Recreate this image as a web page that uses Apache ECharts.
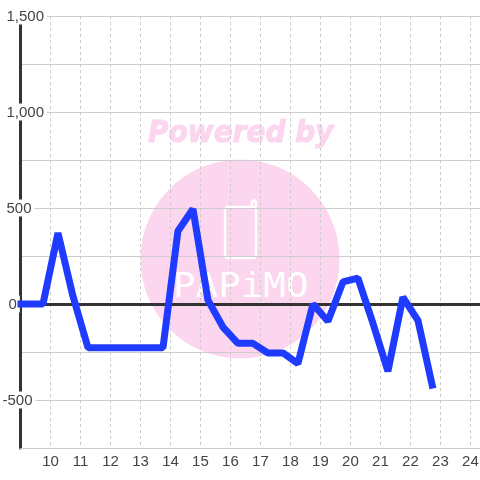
<!DOCTYPE html>
<html><head><meta charset="utf-8">
<style>html,body{margin:0;padding:0;background:#fff}#c{width:480px;height:480px}</style>
<script src="https://cdn.jsdelivr.net/npm/echarts@6/dist/echarts.min.js"></script>
</head><body><div id="c"></div>
<script>
const times = [8.9,9.75,10.25,10.75,11.25,11.75,12.25,12.75,13.25,13.75,14.25,14.75,15.25,15.75,16.25,16.75,17.25,17.75,18.25,18.75,19.25,19.75,20.25,20.75,21.25,21.75,22.25,22.75];
const values = [0,0,370,40,-228,-228,-228,-228,-228,-228,380,495,20,-120,-205,-205,-255,-255,-310,0,-90,115,135,-100,-350,35,-85,-440];
const xTicks = [10,11,12,13,14,15,16,17,18,19,20,21,22,23,24];
const yLabels = [-500,0,500,1000,1500];
const pink = '#fbd6ee';
const chart = echarts.init(document.getElementById('c'), null, {renderer:'canvas'});
const fmtNum = v => v.toLocaleString('en-US');
chart.setOption({
  animation:false,
  backgroundColor:'#fff',
  grid:{left:20.5,right:0,top:16,bottom:32,outerBoundsMode:'none'},
  graphic:[
    {type:'circle',z:-10,silent:true,shape:{cx:240,cy:259,r:99.5},style:{fill:pink}},
    {type:'text',z:-9,silent:true,x:148,y:119,scaleY:1.1,style:{text:'Powered by',fill:pink,stroke:pink,lineWidth:1,font:'italic bold 28px "DejaVu Sans"'}},
    {type:'rect',z:-9,silent:true,shape:{x:225,y:207,width:31,height:51,r:3},style:{fill:'none',stroke:'#fff',lineWidth:2.5}},
    {type:'polyline',z:-9,silent:true,shape:{points:[[252,207],[252,202],[254,200],[256,202],[256,207]]},style:{fill:'none',stroke:'#fff',lineWidth:2.5}},
    {type:'text',z:-9,silent:true,x:173,y:271,scaleX:1.34,scaleY:1.22,style:{text:'PAPiMO',fill:'#fff',font:'28px "DejaVu Sans Mono"'}}
  ],
  xAxis:[{
    type:'value',min:9,max:24.32,position:'bottom',
    axisLine:{onZero:false,show:true,lineStyle:{color:'#ccc',width:1}},
    axisTick:{show:false,customValues:xTicks},
    axisLabel:{customValues:xTicks,color:'#444',fontSize:15,fontFamily:'"Liberation Sans"',margin:6},
    splitLine:{show:true,lineStyle:{color:'#ccc',width:1,type:[3,3]}}
  },{
    type:'value',min:9,max:24.32,
    axisLine:{onZero:true,show:true,lineStyle:{color:'#333',width:3}},
    axisTick:{show:false},axisLabel:{show:false},splitLine:{show:false}
  }],
  yAxis:{
    type:'value',min:-750,max:1500,interval:250,
    axisLine:{show:true,onZero:false,lineStyle:{color:'#333',width:3}},
    axisTick:{show:false},
    axisLabel:{
      customValues:yLabels,align:'left',margin:18,color:'#444',fontSize:15,fontFamily:'"Liberation Sans"',
      formatter:v=>{const k=v<0?'n':v===0?'z':'p';return '{'+k+'|'+fmtNum(v)+'}';},
      rich:{
        n:{padding:[2,3,0,0],backgroundColor:'#fff',color:'#444',fontSize:15},
        z:{padding:[2,3,0,6],backgroundColor:'#fff',color:'#444',fontSize:15},
        p:{padding:[2,3,0,4],backgroundColor:'#fff',color:'#444',fontSize:15}
      }
    },
    splitLine:{show:true,lineStyle:{color:'#ccc',width:1}}
  },
  series:[{
    type:'line',xAxisIndex:0,data:times.map((t,i)=>[t,values[i]]),showSymbol:false,clip:false,z:5,
    lineStyle:{color:'#1f3bff',width:7,join:'bevel',cap:'butt'}
  }]
});
</script></body></html>
